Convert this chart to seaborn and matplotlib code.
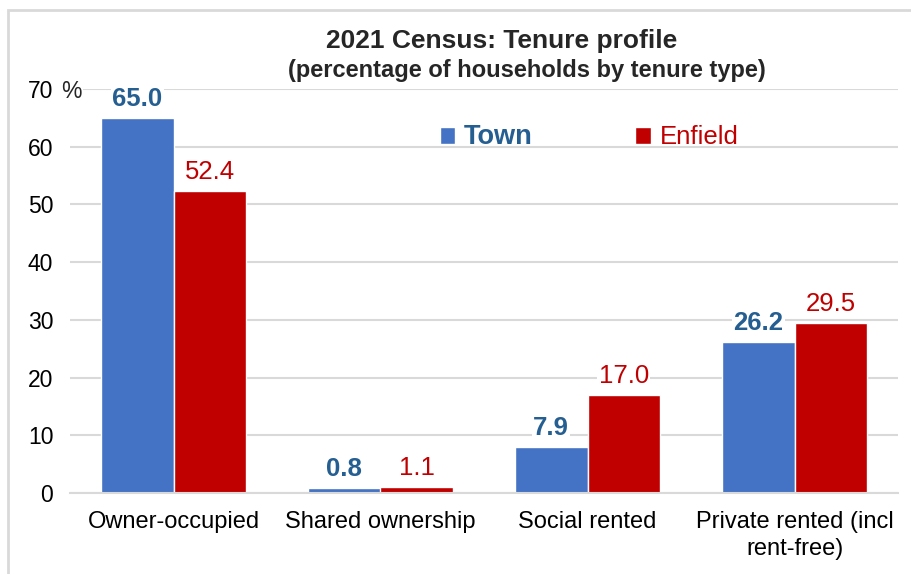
import matplotlib
matplotlib.use("Agg")
import matplotlib.pyplot as plt
import seaborn as sns
import pandas as pd
from matplotlib.patches import Rectangle

# Data
categories = ["Owner-occupied", "Shared ownership", "Social rented", "Private rented (incl\nrent-free)"]
town = [65.0, 0.8, 7.9, 26.2]
enfield = [52.4, 1.1, 17.0, 29.5]
series = ["Town", "Enfield"]
yticks = [0, 10, 20, 30, 40, 50, 60, 70]

df = pd.DataFrame({
    "category": categories * 2,
    "value": town + enfield,
    "area": ["Town"] * len(categories) + ["Enfield"] * len(categories),
})

sns.set_theme(style="white")
plt.rcParams["font.family"] = ["Liberation Sans", "DejaVu Sans"]

bar_colors = {"Town": "#4472C4", "Enfield": "#C00000"}
label_colors = {"Town": "#255E91", "Enfield": "#C00000"}
label_weights = {"Town": "bold", "Enfield": "normal"}

W, H = 911, 574
fig = plt.figure(figsize=(W / 100, H / 100), dpi=100)
ax = fig.add_axes([70 / W, (H - 493) / H, (898 - 70) / W, (493 - 89) / H])

sns.barplot(data=df, x="category", y="value", hue="area", hue_order=series,
            palette=bar_colors, width=0.7, saturation=1, ax=ax, legend=True)

ax.set_ylim(0, 70)
ax.set_xlim(-0.5, 3.5)
ax.set_yticks(yticks)
ax.set_yticklabels([str(t) for t in yticks])
ax.yaxis.grid(True, color="#D9D9D9", linewidth=1.5)
ax.set_axisbelow(True)
for side in ["top", "right", "left"]:
    ax.spines[side].set_visible(False)
ax.spines["bottom"].set_color("#D9D9D9")
ax.spines["bottom"].set_linewidth(1.5)
ax.tick_params(axis="y", length=0, pad=12, labelsize=16.5, colors="#000000")
ax.tick_params(axis="x", length=0, pad=13, labelsize=17, colors="#000000")
for lbl in ax.get_xticklabels():
    lbl.set_linespacing(1.3)
ax.set_xlabel("")
ax.set_ylabel("")

# "%" unit next to the top tick label
ax.text(-9 / 828, 70, "%", transform=ax.get_yaxis_transform(), fontsize=16.5,
        ha="left", va="center_baseline", clip_on=False,
        bbox=dict(facecolor="white", edgecolor="none", pad=1))

for container, name in zip(ax.containers, series):
    ax.bar_label(container, fmt="%.1f", padding=5, fontsize=18.5,
                 color=label_colors[name], fontweight=label_weights[name],
                 bbox=dict(facecolor="white", edgecolor="none", pad=1))

leg = ax.legend(ncol=2, frameon=False, loc="center", bbox_to_anchor=(0.627, 0.88),
                fontsize=18.5, handlelength=0.6, handleheight=0.6, handletextpad=0.35,
                columnspacing=4.0)
for text, name in zip(leg.get_texts(), series):
    text.set_color(label_colors[name])
    text.set_fontweight(label_weights[name])
leg.get_texts()[0].set_fontsize(19.5)

fig.text(502 / W, 1 - 48 / H, "2021 Census: Tenure profile",
         ha="center", va="baseline", fontsize=19, fontweight="bold")
fig.text(527 / W, 1 - 77 / H, "(percentage of households by tenure type)",
         ha="center", va="baseline", fontsize=17, fontweight="bold")

# thin grey frame around the chart area
fig.patches.append(Rectangle((8 / W, -0.1), 1.2, 1.1 - 10 / H, transform=fig.transFigure,
                             fill=False, edgecolor="#D9D9D9", linewidth=2, clip_on=False))

fig.savefig("out.png", dpi=100)
